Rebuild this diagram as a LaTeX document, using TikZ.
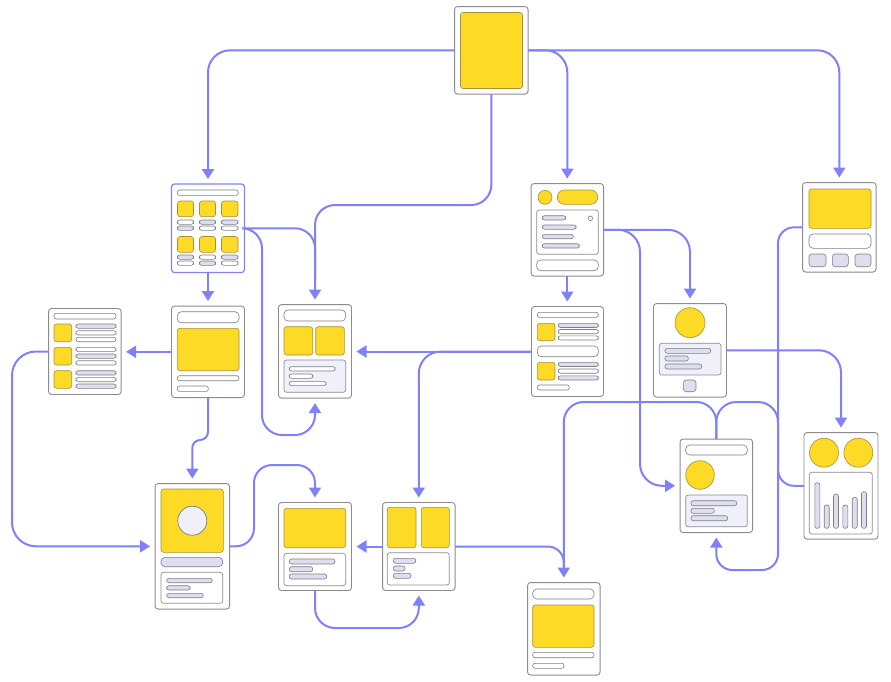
\documentclass[tikz,border=0pt]{standalone}
\usetikzlibrary{arrows.meta}
\definecolor{cblue}{RGB}{128,128,248}
\definecolor{ylw}{RGB}{253,218,38}
\definecolor{ylwline}{RGB}{165,145,60}
\definecolor{bord}{RGB}{140,140,140}
\definecolor{pgray}{RGB}{125,125,135}
\definecolor{lav}{RGB}{222,222,238}
\definecolor{panelc}{RGB}{240,240,250}
\definecolor{selb}{RGB}{130,130,245}
\tikzset{
 screen/.style={draw=bord, fill=white, rounded corners=3pt, line width=0.9pt, inner sep=0pt, outer sep=0pt},
 yel/.style={draw=ylwline, fill=ylw, line width=0.6pt, rounded corners=2.5pt},
 pw/.style={draw=pgray, fill=white, line width=0.6pt, rounded corners=2.2pt},
 pl/.style={draw=pgray, fill=lav, line width=0.6pt, rounded corners=2.2pt},
 pan/.style={draw=bord, fill=panelc, line width=0.7pt, rounded corners=2.5pt},
 panw/.style={draw=bord, fill=white, line width=0.7pt, rounded corners=2.5pt},
 conn/.style={draw=cblue, line width=2pt, rounded corners=20pt},
 arr/.style={-{Triangle[length=10pt,width=12pt]}, shorten >=5pt},
}
\newcommand{\PillW}[4]{\draw[pw] (#1,#2) rectangle (#3,#4);}
\newcommand{\PillL}[4]{\draw[pl] (#1,#2) rectangle (#3,#4);}
\newcommand{\Yel}[4]{\draw[yel] (#1,#2) rectangle (#3,#4);}
\newcommand{\PanL}[4]{\draw[pan] (#1,#2) rectangle (#3,#4);}
\newcommand{\PanW}[4]{\draw[panw] (#1,#2) rectangle (#3,#4);}
\begin{document}
\begin{tikzpicture}[x=1pt,y=-1pt]
\fill[white] (0,0) rectangle (891,681);
\useasboundingbox (0,0) rectangle (891,681);
% screens
\node[screen, minimum width=73.5pt, minimum height=87.5pt] (s1) at (491.3,50.3) {};
\node[screen, draw=selb, line width=1.2pt, minimum width=73pt, minimum height=88.5pt] (s2) at (208,228.3) {};
\node[screen, minimum width=72.5pt, minimum height=92.5pt] (s3) at (567.3,229.8) {};
\node[screen, minimum width=73.5pt, minimum height=89.5pt] (s4) at (839.3,227.3) {};
\node[screen, minimum width=72.5pt, minimum height=86pt] (s5) at (84.8,351.5) {};
\node[screen, minimum width=73pt, minimum height=91.5pt] (s6) at (208,351.8) {};
\node[screen, minimum width=73pt, minimum height=93.5pt] (s7) at (315,351.3) {};
\node[screen, minimum width=72pt, minimum height=90pt] (s8) at (567.5,351.5) {};
\node[screen, minimum width=73pt, minimum height=93.5pt] (s9) at (690,350.3) {};
\node[screen, minimum width=74.5pt, minimum height=125.5pt] (s10) at (192.3,546.3) {};
\node[screen, minimum width=73pt, minimum height=88pt] (s11) at (315,546.5) {};
\node[screen, minimum width=72.5pt, minimum height=88pt] (s12) at (418.8,546.5) {};
\node[screen, minimum width=72.5pt, minimum height=92.5pt] (s13) at (563.8,628.8) {};
\node[screen, minimum width=72.5pt, minimum height=93.5pt] (s14) at (716.3,485.8) {};
\node[screen, minimum width=74pt, minimum height=106.5pt] (s15) at (841,485.8) {};
% S1
\Yel{460.5}{12.5}{522.5}{88.5}
% S2
\PillW{177.3}{190}{238.3}{195.3}
\Yel{177.5}{201}{193.5}{216.7}\Yel{199.5}{201}{215.5}{216.7}\Yel{221.5}{201}{238}{216.7}
\PillW{177.5}{220}{193.5}{224.3}\PillL{199.5}{220}{215.5}{224.3}\PillL{221.5}{220}{238}{224.3}
\PillL{177.5}{226}{193.5}{230.3}\PillW{199.5}{226}{215.5}{230.3}\PillW{221.5}{226}{238}{230.3}
\Yel{177.5}{236.5}{193.5}{252.3}\Yel{199.5}{236.5}{215.5}{252.3}\Yel{221.5}{236.5}{238}{252.3}
\PillL{177.5}{255}{193.5}{259.3}\PillW{199.5}{255}{215.5}{259.3}\PillL{221.5}{255}{238}{259.3}
\PillW{177.5}{261}{193.5}{265.3}\PillL{199.5}{261}{215.5}{265.3}\PillW{221.5}{261}{238}{265.3}
% S3
\draw[yel] (545,197.3) circle[radius=7pt];
\draw[yel, rounded corners=7pt] (557.3,190) rectangle (597.7,204.3);
\PanW{536.7}{210}{598.3}{254.3}
\PillL{542.3}{215.7}{565.7}{220}
\PillL{542.3}{225}{576}{229.3}
\PillL{542.3}{234.3}{573.3}{238.7}
\PillL{542.3}{243.7}{579.3}{248}
\draw[pw] (590.3,218.3) circle[radius=2.3pt];
\draw[pw, rounded corners=4pt] (536.7,260) rectangle (598.3,270.7);
% S4
\Yel{809}{189}{871}{228.3}
\draw[pw, rounded corners=4pt] (809,234) rectangle (871,248.3);
\draw[pl, rounded corners=3pt] (809,254) rectangle (826,266.7);
\draw[pl, rounded corners=3pt] (832.3,254) rectangle (848.3,266.7);
\draw[pl, rounded corners=3pt] (855,254) rectangle (871,266.7);
% S5
\PillW{54}{313.3}{116}{319}
\Yel{54}{324}{71.7}{341.7}\Yel{54}{347.3}{71.7}{365}\Yel{54}{370.7}{71.7}{388.3}
\PillL{76}{324}{116}{328.3}\PillW{76}{330.7}{116}{335}\PillW{76}{337.3}{116}{341.7}
\PillW{76}{347.3}{116}{351.6}\PillL{76}{354}{116}{358.3}\PillW{76}{360.7}{116}{365}
\PillL{76}{370.7}{116}{375}\PillW{76}{377.4}{116}{381.7}\PillL{76}{384}{116}{388.3}
% S6
\draw[pw, rounded corners=4pt] (177.3,311.7) rectangle (239,322.7);
\Yel{177.3}{328.3}{239}{370.7}
\PillW{177.3}{375.7}{239}{380.7}
\PillW{177.3}{386}{208.3}{391.4}
% S7
\draw[pw, rounded corners=4pt] (284,310) rectangle (345.7,321);
\Yel{284}{326.7}{312.7}{355}\Yel{315.7}{326.7}{344.3}{355}
\PanL{284}{360}{345.7}{392.3}
\PillW{289.3}{366.7}{335}{371}
\PillW{289.3}{374}{312.7}{378.3}
\PillW{289.3}{381.3}{326}{385.6}
% S8
\PillW{537.3}{312.3}{598.3}{317.3}
\Yel{537.3}{323.3}{555}{340.7}
\PillL{558.3}{323.3}{598.3}{327.5}\PillW{558.3}{329.5}{598.3}{333.7}\PillW{558.3}{335.8}{598.3}{340}
\draw[pw, rounded corners=4pt] (537.3,346) rectangle (598.3,356.7);
\Yel{537.3}{362.3}{555}{380}
\PillL{558.3}{362.3}{598.3}{366.5}\PillW{558.3}{369}{598.3}{373.2}\PillL{558.3}{375.8}{598.3}{380}
\PillW{537.3}{385}{569.3}{390}
% S9
\draw[yel] (690,322.7) circle[radius=15pt];
\PanL{659.3}{343.3}{721}{375}
\PillL{665}{348.3}{710.7}{353.3}
\PillL{665}{356}{688.3}{361}
\PillL{665}{364}{701.7}{369}
\draw[pl, rounded corners=3pt] (683.3,380) rectangle (696,391.7);
% S10
\Yel{161}{489}{223.3}{552.3}
\draw[draw=pgray, fill=panelc, line width=0.7pt] (192.3,520.7) circle[radius=14.5pt];
\draw[pl, rounded corners=4pt] (161,557.3) rectangle (222.7,566.7);
\PanW{161}{572.3}{222.7}{603.3}
\PillL{166.7}{578.3}{212.3}{582.7}
\PillL{166.7}{585.7}{190}{590}
\PillL{166.7}{593.3}{203.3}{597.7}
% S11
\Yel{284}{508.3}{345.7}{547.7}
\PanW{284}{553.3}{345.7}{585.7}
\PillL{289.3}{559}{335}{564}
\PillL{289.3}{566.7}{312.7}{571.7}
\PillL{289.3}{574}{326.7}{579}
% S12
\Yel{387.3}{507.3}{416}{547.7}\Yel{421.3}{507.3}{449.3}{547.7}
\PanW{387.3}{552.7}{449.3}{585}
\PillL{393.3}{558.3}{415.7}{563.3}
\PillL{393.3}{566}{405}{571}
\PillL{393.3}{573.3}{411}{578.3}
% S13
\draw[pw, rounded corners=4pt] (532.7,589) rectangle (594,599);
\Yel{532.7}{605}{594}{647.3}
\PillW{532.7}{652.3}{594}{657.7}
\PillW{532.7}{663.3}{564}{668.3}
% S14
\draw[pw, rounded corners=4pt] (685.7,445) rectangle (747.3,455);
\draw[yel] (700,475) circle[radius=14.3pt];
\PanL{685.7}{495}{747.3}{526.7}
\PillL{691}{500.7}{736.7}{505.7}
\PillL{691}{508.3}{714.3}{513.3}
\PillL{691}{515.7}{727.7}{520.7}
% S15
\draw[yel] (824,452.7) circle[radius=14.5pt];
\draw[yel] (858.3,452.7) circle[radius=14.5pt];
\PanW{809.3}{472.3}{872.3}{534}
\PillL{814.8}{482.7}{819.8}{528.3}
\PillL{824.2}{505}{829.2}{528.3}
\PillL{833.5}{494}{838.5}{528.3}
\PillL{842.8}{505}{847.8}{528.3}
\PillL{852.2}{497.3}{857.2}{528.3}
\PillL{861.5}{491.7}{866.5}{528.3}
% connectors
\draw[conn, arr, rounded corners=22pt] (s1.west) -| (s2.north);
\draw[conn, arr, rounded corners=22pt] (s1.east) -| (s3.north);
\draw[conn, arr, rounded corners=22pt] (s1.east) -| (s4.north);
\draw[conn, arr] (s1.south) -- (491.3,205) -- (315,205) -- (s7.north);
\draw[conn] (s2.east) -- (315,228.3) -- (315,280);
\draw[conn, arr] (s2.east) -- (262,228.3) -- (262,435) -- (315,435) -- (s7.south);
\draw[conn, arr] (s2.south) -- (s2.south |- s6.north);
\draw[conn, arr] (s6.west) -- (s6.west -| s5.east);
\draw[conn, arr, rounded corners=8pt] (s6.south) -- (208,440) -- (192.3,440) -- (s10.north);
\draw[conn, arr, rounded corners=24pt] (s5.west) -- (12,351.5) -- (12,546.3) -- (s10.west);
\draw[conn, arr, rounded corners=18pt] (s10.east) -- (254,546.3) -- (254,465) -- (315,465) -- (s11.north);
\draw[conn, arr] (s12.west) -- (s11.east);
\draw[conn, arr] (s11.south) -- (315,628) -- (418.8,628) -- (s12.south);
\draw[conn, arr] (s8.west) -- (s8.west -| s7.east);
\draw[conn, arr, rounded corners=22pt] (s8.west) -| (s12.north);
\draw[conn, arr] (s3.south) -- (s3.south |- s8.north);
\draw[conn, arr, rounded corners=22pt] (s3.east) -- (640,229.8) -- (640,485.8) -- (s14.west);
\draw[conn, arr, rounded corners=22pt] (s3.east) -| (s9.north);
\draw[conn, arr, rounded corners=22pt] (s9.east) -| (s15.north);
\draw[conn, arr, rounded corners=16pt] (s4.west) -- (778,227.3) -- (778,570) -- (716.3,570) -- (s14.south);
\draw[conn, rounded corners=16pt] (s15.west) -- (778,485.8) -- (778,440);
\draw[conn] (s14.north) -- (716.3,402) -- (778,402) -- (778,440);
\draw[conn, arr] (s14.north) -- (716.3,402) -- (563.8,402) -- (s13.north);
\draw[conn, rounded corners=16pt] (s12.east) -- (563.8,546.5) -- (563.8,570);
\end{tikzpicture}
\end{document}
